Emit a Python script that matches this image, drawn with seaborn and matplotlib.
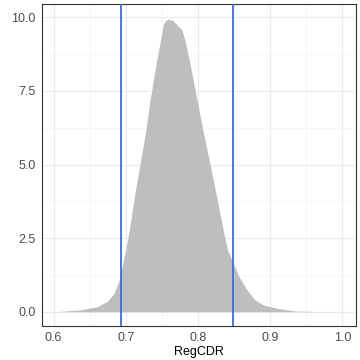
import matplotlib
matplotlib.use('Agg')
import matplotlib.pyplot as plt
import seaborn as sns
import pandas as pd
from matplotlib.ticker import MultipleLocator, FormatStrFormatter

# density curve
regcdr = [0.600, 0.609, 0.637, 0.660, 0.674, 0.684, 0.691, 0.700, 0.705, 0.712,
          0.720, 0.728, 0.733, 0.739, 0.743, 0.7475, 0.752, 0.755, 0.759, 0.766,
          0.771, 0.778, 0.782, 0.788, 0.797, 0.806, 0.817, 0.827, 0.835, 0.841,
          0.847, 0.857, 0.868, 0.879, 0.891, 0.909, 0.932, 0.960, 1.000]
density = [0.00, 0.01, 0.06, 0.17, 0.34, 0.63, 1.08, 2.10, 2.78, 3.91,
           5.04, 6.17, 7.07, 7.98, 8.55, 9.12, 9.74, 9.88, 9.94, 9.88,
           9.74, 9.57, 9.23, 8.55, 7.42, 6.28, 4.98, 3.78, 2.78, 2.10,
           1.76, 1.19, 0.74, 0.40, 0.23, 0.12, 0.03, 0.01, 0.00]

# interval bounds (vertical lines)
bounds = [0.693, 0.848]

df = pd.DataFrame({'RegCDR': regcdr, 'density': density})

sns.set_style('white')
plt.rcParams['font.family'] = ['Liberation Sans', 'DejaVu Sans']

fig = plt.figure(figsize=(3.6, 3.6), dpi=100)
ax = fig.add_axes([0.116, 0.094, 0.872, 0.894])

ax.fill_between(df['RegCDR'], 0, df['density'], color='#BEBEBE', linewidth=0, zorder=2)

for b in bounds:
    ax.axvline(b, color='#4169E1', linewidth=1.3, zorder=3)

ax.set_xlim(0.5837, 1.0186)
ax.set_ylim(-0.49, 10.44)

ax.xaxis.set_major_locator(MultipleLocator(0.1))
ax.xaxis.set_minor_locator(MultipleLocator(0.05))
ax.yaxis.set_major_locator(MultipleLocator(2.5))
ax.yaxis.set_minor_locator(MultipleLocator(1.25))
ax.xaxis.set_major_formatter(FormatStrFormatter('%.1f'))
ax.yaxis.set_major_formatter(FormatStrFormatter('%.1f'))

ax.grid(which='major', color='#EBEBEB', linewidth=0.8, zorder=0)
ax.grid(which='minor', color='#F3F3F3', linewidth=0.5, zorder=0)
ax.set_axisbelow(True)

for s in ax.spines.values():
    s.set_color('#333333')
    s.set_linewidth(0.8)

ax.tick_params(which='major', length=3, width=0.6, color='#333333',
               labelsize=9, labelcolor='#4D4D4D', pad=1.5)
ax.tick_params(which='minor', length=0)

ax.set_xlabel('RegCDR', fontsize=9, color='black', labelpad=1)
ax.set_ylabel('')

plt.savefig('out.png', dpi=100)
plt.close()
